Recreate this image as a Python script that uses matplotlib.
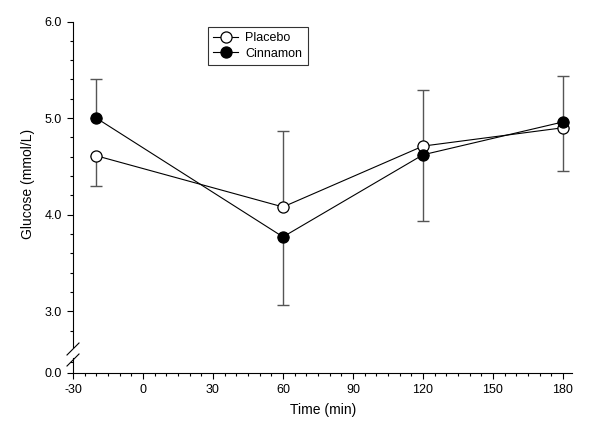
import matplotlib
matplotlib.use("Agg")
import matplotlib.pyplot as plt
from matplotlib.ticker import MultipleLocator
from matplotlib.lines import Line2D

plt.rcParams['font.family'] = ['Liberation Sans', 'DejaVu Sans']
plt.rcParams['axes.unicode_minus'] = False

time = [-20, 60, 120, 180]
placebo = [4.61, 4.08, 4.71, 4.90]
cinnamon = [5.00, 3.77, 4.62, 4.96]
# one-sided error bars (lower, upper)
placebo_lo = [0.31, 0.0, 0.0, 0.45]
placebo_hi = [0.0, 0.79, 0.58, 0.0]
cinnamon_lo = [0.0, 0.71, 0.69, 0.0]
cinnamon_hi = [0.40, 0.0, 0.0, 0.48]
x_ticks = [-30, 0, 30, 60, 90, 120, 150, 180]
y_ticks = [3.0, 4.0, 5.0, 6.0]

fig = plt.figure(figsize=(6.0, 4.24), dpi=100)
left = 73 / 600
width = 499.3 / 600
ax = fig.add_axes([left, 77 / 424, width, 325.5 / 424])
axb = fig.add_axes([left, 51.3 / 424, width, 14.7 / 424])

ebc = '#555555'
for a in (ax, axb):
    a.errorbar(time, placebo, yerr=[placebo_lo, placebo_hi], fmt='none',
               ecolor=ebc, elinewidth=1.0, capsize=4.5, capthick=1.0, zorder=2)
    a.errorbar(time, cinnamon, yerr=[cinnamon_lo, cinnamon_hi], fmt='none',
               ecolor=ebc, elinewidth=1.0, capsize=4.5, capthick=1.0, zorder=2)
    a.plot(time, placebo, '-o', color='black', lw=0.8, ms=8, mfc='white',
           mec='black', mew=0.9, zorder=3, label='Placebo')
    a.plot(time, cinnamon, '-o', color='black', lw=0.8, ms=8, mfc='black',
           mec='black', mew=0.9, zorder=3, label='Cinnamon')
    a.set_xlim(-30, 184)
    a.spines['top'].set_visible(False)
    a.spines['right'].set_visible(False)
    a.tick_params(direction='out', labelsize=9, width=0.8)
    a.tick_params(which='major', length=4.5)
    a.tick_params(which='minor', length=2.5, width=0.8)

ax.set_ylim(2.63, 6.0)
ax.set_yticks(y_ticks)
ax.set_yticklabels([f"{v:.1f}" for v in y_ticks])
ax.yaxis.set_minor_locator(MultipleLocator(0.2))
ax.spines['bottom'].set_visible(False)
ax.tick_params(axis='x', which='both', bottom=False, labelbottom=False)
ax.set_ylabel('Glucose (mmol/L)', fontsize=10, labelpad=7)

axb.set_ylim(0, 0.15)
axb.set_yticks([0.0])
axb.set_yticklabels(['0.0'])
axb.yaxis.set_minor_locator(MultipleLocator(0.11))
axb.set_xticks(x_ticks)
axb.xaxis.set_minor_locator(MultipleLocator(5))
axb.set_xlabel('Time (min)', fontsize=10, labelpad=5)
axb.patch.set_alpha(0)

# break marks
d = 6 / 600
h = 6 / 424
x0 = left
for yb in (75 / 424, 64 / 424):
    fig.add_artist(Line2D([x0 - d, x0 + d], [yb - h, yb + h], color='black',
                          lw=0.8, transform=fig.transFigure))

leg = ax.legend(loc='upper left', bbox_to_anchor=(208 / 600, 1 - 27 / 424),
                bbox_transform=fig.transFigure, fontsize=9, frameon=True,
                fancybox=False, edgecolor='black', borderpad=0.4,
                handlelength=2.0, handletextpad=0.6, labelspacing=0.3,
                borderaxespad=0)
leg.get_frame().set_linewidth(0.8)

fig.savefig('out.png', dpi=100)
